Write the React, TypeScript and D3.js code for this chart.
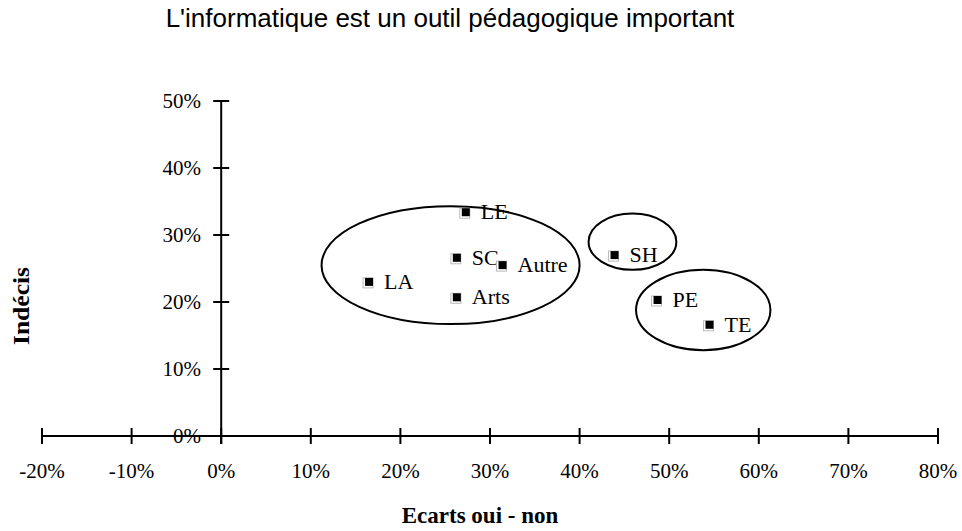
import * as d3 from "d3";

// data (percent values)
const codes = ["LA", "LE", "SC", "Autre", "Arts", "SH", "PE", "TE"];
const ecarts = [16.5, 27.3, 26.3, 31.4, 26.3, 43.9, 48.7, 54.5];
const indecis = [23.0, 33.4, 26.6, 25.5, 20.7, 27.0, 20.3, 16.6];

const xTicks = [-20, -10, 0, 10, 20, 30, 40, 50, 60, 70, 80];
const yTicks = [0, 10, 20, 30, 40, 50];

// groups circled on the chart: centre and radii in data units
const groupCx = [25.6, 45.9, 53.8];
const groupCy = [25.5, 29.0, 18.8];
const groupRx = [14.4, 4.9, 7.5];
const groupRy = [8.8, 4.2, 6.0];

const W = 962;
const H = 531;
const serif = "'Liberation Serif', 'Times New Roman', serif";

export default function App() {
    const x = d3.scaleLinear().domain([-20, 80]).range([42, 938]);
    const y = d3.scaleLinear().domain([0, 50]).range([436, 101]);

    return (
        <svg width={W} height={H} style={{ position: "absolute", left: 0, top: 0, background: "#fff" }}>
            <text x={450} y={27} textAnchor="middle" fontFamily="'Liberation Sans', Arial, sans-serif" fontSize={26}>
                L'informatique est un outil pédagogique important
            </text>

            {/* x axis */}
            <line x1={x(-20)} x2={x(80)} y1={y(0)} y2={y(0)} stroke="#000" strokeWidth={2} />
            {xTicks.map(t => (
                <g key={"x" + t}>
                    <line x1={x(t)} x2={x(t)} y1={y(0) - 8} y2={y(0) + 8} stroke="#000" strokeWidth={2} />
                    <text x={x(t)} y={478} textAnchor="middle" fontFamily={serif} fontSize={21}>{t + "%"}</text>
                </g>
            ))}

            {/* y axis */}
            <line x1={x(0)} x2={x(0)} y1={y(50)} y2={y(0) + 8} stroke="#000" strokeWidth={2} />
            {yTicks.map(t => (
                <g key={"y" + t}>
                    <line x1={x(0) - 8} x2={x(0) + 8} y1={y(t)} y2={y(t)} stroke="#000" strokeWidth={2} />
                    <text x={201} y={y(t) + 7} textAnchor="end" fontFamily={serif} fontSize={21}>{t + "%"}</text>
                </g>
            ))}

            <text x={480} y={523} textAnchor="middle" fontFamily={serif} fontWeight="bold" fontSize={23}>
                Ecarts oui - non
            </text>
            <text transform={`translate(29,306) rotate(-90)`} textAnchor="middle" fontFamily={serif}
                fontWeight="bold" fontSize={24} textLength={78} lengthAdjust="spacingAndGlyphs">
                Indécis
            </text>

            {/* circled groups */}
            {groupCx.map((cx, i) => (
                <ellipse key={"g" + i} cx={x(cx)} cy={y(groupCy[i])}
                    rx={x(groupRx[i]) - x(0)} ry={y(0) - y(groupRy[i])}
                    fill="none" stroke="#000" strokeWidth={2} />
            ))}

            {/* points */}
            {codes.map((c, i) => {
                const px = x(ecarts[i]);
                const py = y(indecis[i]);
                return (
                    <g key={c}>
                        <rect x={px - 6} y={py - 4} width={10} height={10} fill="#fff" stroke="#bbb" strokeWidth={1} />
                        <rect x={px - 4} y={py - 4} width={8} height={8} fill="#000" />
                        <text x={px + 15} y={py + 7} fontFamily={serif} fontSize={22}>{c}</text>
                    </g>
                );
            })}
        </svg>
    );
}
